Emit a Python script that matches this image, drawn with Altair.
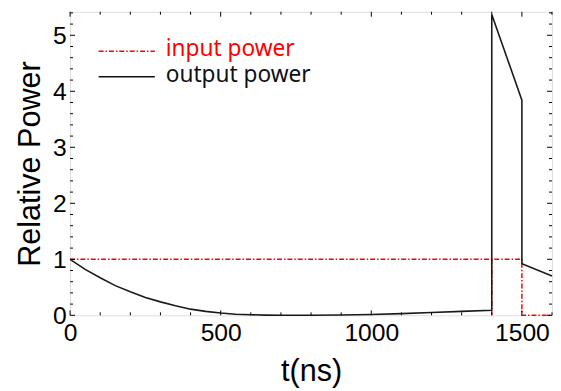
import altair as alt
import pandas as pd

# ---- data ----
out_t = [0, 50, 100, 150, 200, 250, 300, 350, 400, 450, 500, 550, 600, 650, 700,
         800, 900, 1000, 1100, 1200, 1300, 1400, 1400, 1500, 1500, 1600]
out_p = [1.0, 0.82, 0.67, 0.53, 0.42, 0.32, 0.24, 0.17, 0.11, 0.07, 0.04, 0.02, 0.01, 0.003, 0.0,
         0.0, 0.005, 0.015, 0.03, 0.05, 0.07, 0.09, 5.37, 3.84, 0.92, 0.70]

in_t = [0, 1500, 1500, 1600, 1400, 1400]
in_p = [1, 1, 0, 0, 1, 0]
in_seg = [0, 0, 0, 0, 1, 1]

x_major = [0, 500, 1000, 1500]
x_minor = [v for v in range(0, 1601, 100) if v % 500 != 0]
y_major = [0, 1, 2, 3, 4, 5]
y_minor = [0.2, 0.4, 0.6, 0.8, 1.2, 1.4, 1.6, 1.8, 2.2, 2.4, 2.6, 2.8, 3.2, 3.4, 3.6, 3.8,
           4.2, 4.4, 4.6, 4.8, 5.2, 5.4]

legend_names = ["input power", "output power"]
legend_colors = ["#ff0000", "#111111"]

W, H = 489, 308
XDOM = [0, 1600]
YDOM = [0, 5.42]

df_out = pd.DataFrame({"t": out_t, "p": out_p, "i": range(len(out_t))})
df_in = pd.DataFrame({"t": in_t, "p": in_p, "seg": in_seg, "i": range(len(in_t))})

xs = alt.Scale(domain=XDOM, nice=False, zero=False)
ys = alt.Scale(domain=YDOM, nice=False)

LABEL_FONT = "Liberation Sans"

xaxis = alt.Axis(
    values=x_major, title="t(ns)", tickSize=0, domain=False, grid=False,
    labelFontSize=25, labelFont=LABEL_FONT, labelColor="black", labelPadding=6,
    titleFontSize=31, titleFont=LABEL_FONT, titleFontWeight="normal", titleColor="black",
    titlePadding=11, labelFlush=False, format="d")
yaxis = alt.Axis(
    values=y_major, title="Relative Power", tickSize=0, domain=False, grid=False,
    labelFontSize=25, labelFont=LABEL_FONT, labelColor="black", labelPadding=4,
    titleFontSize=31, titleFont=LABEL_FONT, titleFontWeight="normal", titleColor="black",
    titlePadding=6, labelFlush=False, format="d")

input_line = alt.Chart(df_in).mark_line(
    color="#ff0000", strokeWidth=1.5, strokeDash=[5, 2, 1.5, 2]
).encode(
    x=alt.X("t:Q", scale=xs, axis=xaxis),
    y=alt.Y("p:Q", scale=ys, axis=yaxis),
    detail="seg:N",
    order="i:Q",
)

output_line = alt.Chart(df_out).mark_line(color="#1a1a1a", strokeWidth=1.6).encode(
    x=alt.X("t:Q", scale=xs, axis=xaxis),
    y=alt.Y("p:Q", scale=ys, axis=yaxis),
    order="i:Q",
)


def xticks(vals, length):
    d = pd.DataFrame({"v": vals})
    bottom = alt.Chart(d).mark_rule(color="black", strokeWidth=1).encode(
        x=alt.X("v:Q", scale=xs, axis=xaxis), y=alt.value(H), y2=alt.value(H - length))
    top = alt.Chart(d).mark_rule(color="black", strokeWidth=1).encode(
        x=alt.X("v:Q", scale=xs, axis=xaxis), y=alt.value(0), y2=alt.value(length))
    return [bottom, top]


def yticks(vals, length):
    d = pd.DataFrame({"v": vals})
    left = alt.Chart(d).mark_rule(color="black", strokeWidth=1).encode(
        y=alt.Y("v:Q", scale=ys, axis=yaxis), x=alt.value(0), x2=alt.value(length))
    right = alt.Chart(d).mark_rule(color="black", strokeWidth=1).encode(
        y=alt.Y("v:Q", scale=ys, axis=yaxis), x=alt.value(W), x2=alt.value(W - length))
    return [left, right]


ticks = xticks(x_major, 5) + xticks(x_minor, 3) + yticks(y_major, 5) + yticks(y_minor, 3)

# legend (manual)
leg_df = pd.DataFrame({"name": legend_names, "color": legend_colors})
leg_in_line = alt.Chart(leg_df.iloc[[0]]).mark_rule(
    strokeWidth=1.5, strokeDash=[5, 2, 1.5, 2]
).encode(x=alt.value(29), x2=alt.value(86), y=alt.value(40),
         color=alt.Color("color:N", scale=None))
leg_out_line = alt.Chart(leg_df.iloc[[1]]).mark_rule(strokeWidth=1.6).encode(
    x=alt.value(29), x2=alt.value(86), y=alt.value(66),
    color=alt.Color("color:N", scale=None))
leg_in_text = alt.Chart(leg_df.iloc[[0]]).mark_text(
    align="left", baseline="middle", font="Noto Sans", fontSize=23
).encode(x=alt.value(97), y=alt.value(38), text="name:N",
         color=alt.Color("color:N", scale=None))
leg_out_text = alt.Chart(leg_df.iloc[[1]]).mark_text(
    align="left", baseline="middle", font="Noto Sans", fontSize=23
).encode(x=alt.value(97), y=alt.value(64), text="name:N",
         color=alt.Color("color:N", scale=None))

chart = alt.layer(
    input_line, output_line, *ticks, leg_in_line, leg_out_line, leg_in_text, leg_out_text
).properties(
    width=W, height=H,
    autosize=alt.AutoSizeParams(type="none"),
    padding={"left": 63, "top": 1, "right": 1, "bottom": 75},
).configure_view(
    stroke="black", strokeWidth=2
).configure(background="white")

chart.save("out.html", embed_options={"renderer": "svg", "actions": False})
